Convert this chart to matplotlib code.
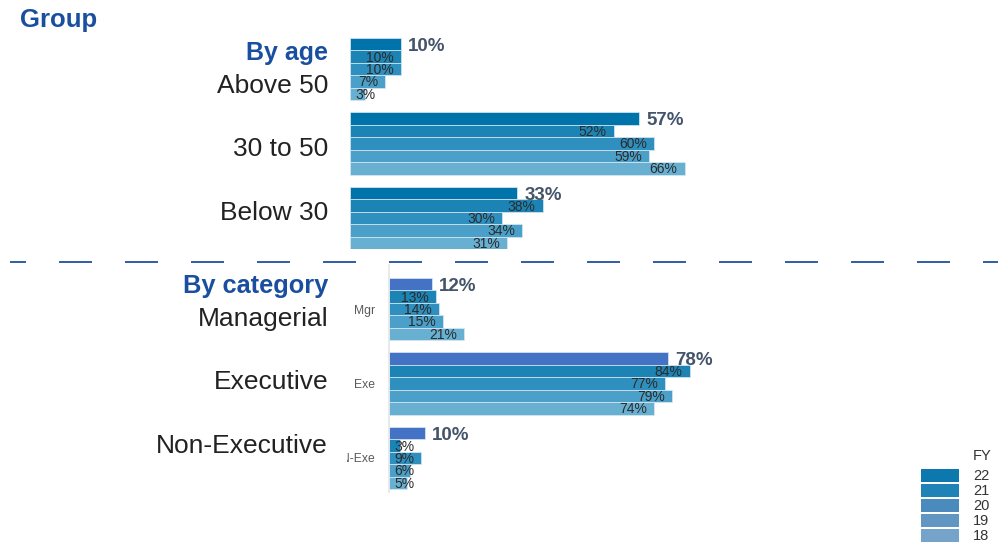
import matplotlib
matplotlib.use("Agg")
import matplotlib.pyplot as plt
from matplotlib.patches import Rectangle
from matplotlib.lines import Line2D
from matplotlib.transforms import Bbox

plt.rcParams['font.family'] = ['Liberation Sans', 'DejaVu Sans']
plt.rcParams['lines.scale_dashes'] = False

# ---------------- data ----------------
years = ["22", "21", "20", "19", "18"]
age_groups = ["Above 50", "30 to 50", "Below 30"]
age_values = [
    [10, 10, 10, 7, 3],
    [57, 52, 60, 59, 66],
    [33, 38, 30, 34, 31],
]
cat_groups = ["Managerial", "Executive", "Non-Executive"]
cat_ticks = ["Mgr", "Exe", "N-Exe"]
cat_values = [
    [12, 13, 14, 15, 21],
    [78, 84, 77, 79, 74],
    [10, 3, 9, 6, 5],
]
title_text = "Group"
age_title = "By age"
cat_title = "By category"
legend_title = "FY"

# ---------------- style ----------------
W, H = 998, 556
DPI = 100
age_colors = ["#0074AA", "#1C84B4", "#2F8FBE", "#4AA0C8", "#67B0D2"]
cat_colors = ["#4472C4", "#1C84B4", "#2F8FBE", "#4AA0C8", "#67B0D2"]
legend_colors = ["#0C78AD", "#2083B7", "#4A8ABD", "#6195C2", "#76A3CA"]
blue_title = "#1A4FA0"
text_dark = "#222222"
bold_label = "#44546A"

fig = plt.figure(figsize=(W / DPI, H / DPI), dpi=DPI)
fig.patch.set_facecolor("white")


def rect(x0, y0, x1, y1):
    return [x0 / W, 1 - y1 / H, (x1 - x0) / W, (y1 - y0) / H]


PX = 72.0 / DPI  # points per pixel


def draw_panel(ax, values, colors):
    renderer = fig.canvas.get_renderer()
    n = len(years)
    for g, row in enumerate(values):
        for s, v in enumerate(row):
            y = g * (n + 1) + s + 0.5
            ax.barh(y, v, height=1.0, color=colors[s], edgecolor="#dbe9f2",
                    linewidth=0.5)
            if s == 0:
                ax.annotate(f"{v}%", (v, y), xytext=(7 * PX, -2 * PX),
                            textcoords="offset points", ha="left", va="center",
                            fontsize=13.5, fontweight="bold", color=bold_label)
            else:
                t = ax.annotate(f"{v}%", (v, y), xytext=(-7 * PX, -1 * PX),
                                textcoords="offset points", ha="right",
                                va="center", fontsize=10, color="#2b2b2b")
                bb = t.get_window_extent(renderer)
                x0 = ax.transData.transform((0, y))[0]
                if bb.x0 < x0 + 5:
                    t.remove()
                    ax.annotate(f"{v}%", (0, y), xytext=(5 * PX, -1 * PX),
                                textcoords="offset points", ha="left",
                                va="center", fontsize=10, color="#2b2b2b")


# ---------------- top panel (by age) ----------------
ax1 = fig.add_axes(rect(350, 38, 998, 249))
ax1.set_xlim(0, 648 / 5.07)
ax1.set_ylim(17, 0)
ax1.axis("off")
draw_panel(ax1, age_values, age_colors)

# ---------------- bottom panel (by category) ----------------
ax2 = fig.add_axes(rect(389, 265, 998, 492))
ax2.set_xlim(0, 609 / 3.58)
bar_px = 211 / 17
ax2.set_ylim(17 + 3 / bar_px, -13 / bar_px)
for sp in ["top", "right", "bottom"]:
    ax2.spines[sp].set_visible(False)
ax2.spines["left"].set_color("#e3e6ea")
ax2.spines["left"].set_linewidth(1.2)
ax2.set_xticks([])
ax2.set_yticks([g * 6 + 2.5 for g in range(len(cat_ticks))])
ax2.set_yticklabels(cat_ticks, fontsize=8.7, color="#595959")
ax2.tick_params(axis="y", length=0, pad=10)
ax2.patch.set_alpha(0)
draw_panel(ax2, cat_values, cat_colors)
clip = Bbox.from_extents(347, 0, W, H)
for lbl in ax2.get_yticklabels():
    lbl.set_clip_box(clip)
    lbl.set_clip_on(True)

# ---------------- left texts ----------------
fig.text(20 / W, 1 - 27 / H, title_text, fontsize=18.5, fontweight="bold",
         color=blue_title, ha="left", va="baseline")
fig.text(328 / W, 1 - 60 / H, age_title, fontsize=18, fontweight="bold",
         color=blue_title, ha="right", va="baseline")
fig.text(328 / W, 1 - 293 / H, cat_title, fontsize=18.3, fontweight="bold",
         color=blue_title, ha="right", va="baseline")
for name, base in zip(age_groups, [93, 156, 220]):
    fig.text(328 / W, 1 - base / H, name, fontsize=19, color=text_dark,
             ha="right", va="baseline")
for name, base in zip(cat_groups, [326, 389, 453]):
    fig.text(328 / W, 1 - base / H, name, fontsize=19, color=text_dark,
             ha="right", va="baseline")

# ---------------- dashed separator ----------------
sep = Line2D([10 / W, 1.0], [1 - 262 / H, 1 - 262 / H], transform=fig.transFigure,
             color="#1F4EA0", linewidth=1.3,
             linestyle=(17 * PX, (33 * PX, 33 * PX)))
fig.add_artist(sep)

# ---------------- legend ----------------
fig.text(991 / W, 1 - 456 / H, legend_title, fontsize=10.5, color="#333333",
         ha="right", va="center")
for i, (yr, col) in enumerate(zip(years, legend_colors)):
    top = 469 + i * 15
    fig.add_artist(Rectangle((921 / W, 1 - (top + 13) / H), 38 / W, 13 / H,
                             transform=fig.transFigure, facecolor=col,
                             edgecolor="none"))
    fig.text(973 / W, 1 - (top + 7) / H, yr, fontsize=10.5, color="#333333",
             ha="left", va="center")

fig.savefig("out.png", dpi=DPI)
